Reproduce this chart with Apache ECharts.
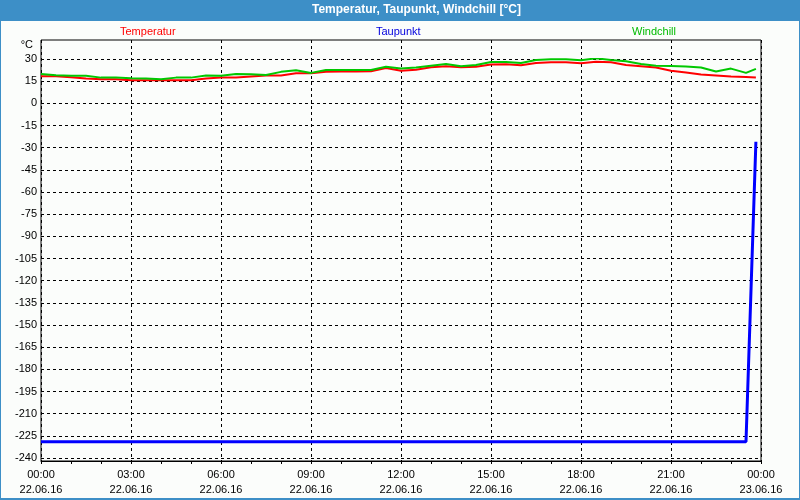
<!DOCTYPE html>
<html>
<head>
<meta charset="utf-8">
<script src="https://cdn.jsdelivr.net/npm/echarts@6/dist/echarts.min.js"></script>
<style>
html,body{margin:0;padding:0;background:#fff;}
#c{width:800px;height:500px;}
</style>
</head>
<body>
<div id="c"></div>
<script>
const titleText = 'Temperatur, Taupunkt, Windchill [°C]';
const seriesNames = ['Temperatur', 'Taupunkt', 'Windchill'];
const seriesColors = ['#ff0000', '#0000ff', '#00c800'];
const legendTextColors = ['#ff0000', '#0000dd', '#00bb00'];

const timeTickLabels = ['00:00','03:00','06:00','09:00','12:00','15:00','18:00','21:00','00:00'];
const dateTickLabels = ['22.06.16','22.06.16','22.06.16','22.06.16','22.06.16','22.06.16','22.06.16','22.06.16','23.06.16'];

// hours since 22.06.16 00:00
const hours = [0,0.5,1,1.5,2,2.5,3,3.5,4,4.5,5,5.5,6,6.5,7,7.5,8,8.5,9,9.5,10,10.5,11,11.5,12,12.5,13,13.5,14,14.5,15,15.5,16,16.5,17,17.5,18,18.5,19,19.5,20,20.5,21,21.5,22,22.5,23,23.5,23.83];
const temperatur = [18.4,18.4,17.7,16.8,16.3,16.3,15.7,15.7,15.7,15.7,15.7,16.8,17.4,17.4,18.1,18.8,18.8,20.4,20.4,21.3,21.5,21.5,21.7,23.9,22.1,22.8,24.4,25.1,24.4,24.8,26.2,26.4,25.8,27.3,27.8,27.8,27.1,28.2,27.8,26.0,25.1,24.2,22.1,20.8,19.5,18.8,18.1,17.8,17.4];
const windchill = [19.9,19.0,18.6,18.6,17.4,17.4,17.0,16.8,16.3,17.4,17.4,18.8,18.6,19.9,19.6,19.2,21.3,22.4,20.6,22.6,22.6,22.6,22.6,24.8,23.5,24.3,25.5,26.6,25.1,26.0,28.0,28.0,27.3,29.3,29.8,29.8,29.1,30.5,29.3,28.5,26.6,25.5,25.3,25.0,24.2,21.5,23.5,20.6,23.3];
const taupunktHours = [0, 23.5, 23.83];
const taupunkt = [-229, -229, -26];

const chart = echarts.init(document.getElementById('c'), null, {renderer: 'canvas'});

const pairs = (xs, ys) => xs.map((x, i) => [x, ys[i]]);
const legendLeft = [115, 371, 627];

const option = {
  animation: false,
  backgroundColor: '#3d8fc7',
  textStyle: {fontFamily: 'Liberation Sans', color: '#000'},
  graphic: [{
    type: 'rect', silent: true, z: -100,
    shape: {x: 1, y: 21, width: 798, height: 477},
    style: {fill: '#fbfdfb'}
  }],
  title: {
    text: titleText, left: 312, top: 4, padding: 0,
    textStyle: {color: '#ffffff', fontSize: 12, fontWeight: 'bold', fontFamily: 'Liberation Sans'}
  },
  legend: seriesNames.map((n, i) => ({
    data: [{name: n, textStyle: {color: legendTextColors[i]}}],
    left: legendLeft[i], top: 26, padding: 0,
    icon: 'rect', itemWidth: 0, itemHeight: 0,
    selectedMode: false,
    textStyle: {fontSize: 11, fontFamily: 'Liberation Sans'}
  })),
  grid: [
    {left: 41, top: 40, width: 720, height: 421, show: true, borderColor: '#000', borderWidth: 1, backgroundColor: 'transparent'},
    {left: 41, top: 59, width: 720, height: 399}
  ],
  xAxis: [
    {
      gridIndex: 0, type: 'value', min: 0, max: 24, interval: 3,
      axisLine: {show: true, lineStyle: {color: '#000', width: 1}},
      axisTick: {show: true, length: 3, lineStyle: {color: '#000'}},
      minorTick: {show: true, splitNumber: 3, length: 3, lineStyle: {color: '#000'}},
      splitLine: {show: true, lineStyle: {color: '#000', width: 1, type: [3, 3]}},
      axisLabel: {
        color: '#000', fontSize: 11, lineHeight: 15, margin: 6,
        showMinLabel: true, showMaxLabel: true,
        formatter: v => {
          const i = Math.round(v / 3);
          return timeTickLabels[i] + '\n' + dateTickLabels[i];
        }
      }
    },
    {gridIndex: 1, type: 'value', min: 0, max: 24, show: false}
  ],
  yAxis: [
    {gridIndex: 0, type: 'value', min: 0, max: 1, show: false},
    {
      gridIndex: 1, type: 'value', min: -240, max: 30, interval: 15,
      name: '°C', nameLocation: 'end', nameGap: 9,
      nameTextStyle: {color: '#000', fontSize: 11, align: 'right', padding: [0, 8, 0, 0]},
      axisLine: {show: false}, axisTick: {show: false},
      axisLabel: {color: '#000', fontSize: 11, margin: 4},
      splitLine: {show: true, lineStyle: {color: '#000', width: 1, type: [3, 3]}}
    }
  ],
  series: [
    {
      name: seriesNames[0], type: 'line', xAxisIndex: 1, yAxisIndex: 1,
      data: pairs(hours, temperatur), symbol: 'none', showSymbol: false,
      lineStyle: {color: seriesColors[0], width: 2}, itemStyle: {color: seriesColors[0]}, z: 3
    },
    {
      name: seriesNames[2], type: 'line', xAxisIndex: 1, yAxisIndex: 1,
      data: pairs(hours, windchill), symbol: 'none', showSymbol: false,
      lineStyle: {color: seriesColors[2], width: 2}, itemStyle: {color: seriesColors[2]}, z: 4
    },
    {
      name: seriesNames[1], type: 'line', xAxisIndex: 1, yAxisIndex: 1,
      data: pairs(taupunktHours, taupunkt), symbol: 'none', showSymbol: false,
      lineStyle: {color: seriesColors[1], width: 3}, itemStyle: {color: seriesColors[1]}, z: 5
    }
  ]
};
chart.setOption(option);
</script>
</body>
</html>
